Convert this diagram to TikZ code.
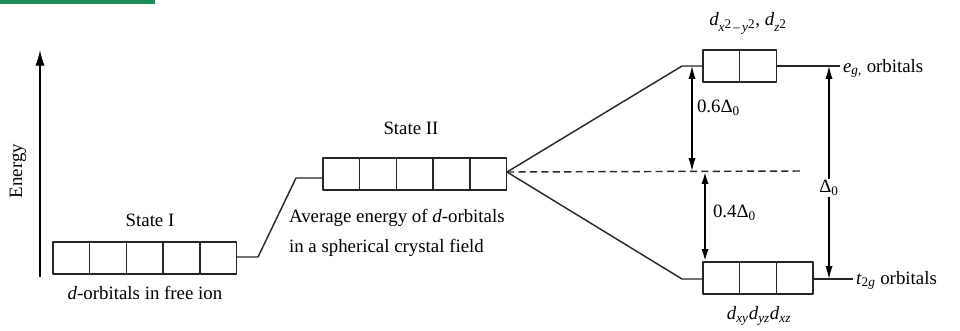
\documentclass[tikz,border=0pt]{standalone}
\usepackage{fontspec}
\setmainfont{Liberation Serif}
\usetikzlibrary{arrows.meta}
\definecolor{bargreen}{HTML}{1A8B55}
\begin{document}
\begin{tikzpicture}[
  x=0.7pt,
  y=-0.7pt,
  line join=round,
  font=\fontsize{13.2}{15}\selectfont,
  orb/.style={draw=black!85,line width=1.1pt},
  level/.style={draw=black!85,line width=1pt},
  axis/.style={draw=black,line width=1pt,-{Latex[length=11pt,width=6.5pt]}},
  gap/.style={draw=black,line width=0.8pt,
    {Latex[length=9pt,width=5pt]}-{Latex[length=9pt,width=5pt]}},
  biggap/.style={gap,line width=1.7pt}
]
  \useasboundingbox (0,0) rectangle (960,330);
  \fill[bargreen] (0,0) rectangle (155,4);

  % Energy axis.
  \coordinate (ebot) at (40,277);
  \coordinate (etop) at (40,50);
  \draw[axis] (ebot) -- (etop);
  \node[rotate=90] (energy) at (18,171) {Energy};

  % Orbital boxes: left edge, top edge, count.
  \foreach \bx/\by/\n in {53/242/5, 323/158/5, 703/50/2, 703/262/3} {
    \foreach \i in {1,...,\n} {
      \draw[orb] ({\bx+(\i-1)*36.7},\by) rectangle ({\bx+\i*36.7},\by+32);
    }
  }

  % Level ends.
  \coordinate (oneR) at (236,257);
  \coordinate (bendA) at (258,257);
  \coordinate (bendB) at (296,178);
  \coordinate (twoL) at (323,178);
  \coordinate (twoR) at (507,172);
  \coordinate (egbend) at (682,66);
  \coordinate (egL) at (703,66);
  \coordinate (egR) at (776,66);
  \coordinate (egend) at (840,66);
  \coordinate (tbend) at (682,279);
  \coordinate (tL) at (703,279);
  \coordinate (tR) at (813,279);
  \coordinate (tend) at (853,279);
  \coordinate (dashend) at (803,171);

  % Connecting levels.
  \draw[level] (oneR) -- (bendA) -- (bendB) -- (twoL);
  \draw[level] (twoR) -- (egbend) -- (egL);
  \draw[level] (twoR) -- (tbend) -- (tL);
  \draw[level] (egR) -- (egend);
  \draw[level] (tR) -- (tend);
  \draw[level,dash pattern=on 5pt off 3pt] (twoR) -- (dashend);

  % Splitting arrows.
  \coordinate (sixtop) at (692,66);
  \coordinate (sixbot) at (692,171);
  \coordinate (fourtop) at (705,171);
  \coordinate (fourbot) at (705,262);
  \coordinate (deltop) at (829,66);
  \coordinate (delbot) at (829,279);
  \draw[gap] (sixtop) -- (sixbot);
  \draw[biggap] (fourtop) -- (fourbot);
  \draw[gap] (deltop) -- (delbot);
  \node[fill=white,inner sep=1pt] (delta) at (829,188) {Δ\textsubscript{0}};

  % Labels.
  \node (stone) at (150,220) {State I};
  \node (free) at (145,293) {\textit{d}-orbitals in free ion};
  \node (sttwo) at (411,128) {State II};
  \node[anchor=west] (avgA) at (284,218) {Average energy of \textit{d}-orbitals};
  \node[anchor=west] (avgB) at (284,248) {in a spherical crystal field};
  \node (egorb) at (748,23)
    {\textit{d}\textsubscript{\textit{x}\raisebox{0.5ex}{2}\,–\,\textit{y}\raisebox{0.5ex}{2}},
     \textit{d}\textsubscript{\textit{z}\raisebox{0.5ex}{2}}};
  \node[anchor=base west] (eglab) at (838,72) {\textit{e}\textsubscript{\textit{g},} orbitals};
  \node[anchor=base west] (tlab) at (851,284) {\textit{t}\textsubscript{2\textit{g}} orbitals};
  \node[anchor=west] (six) at (692,108) {0.6Δ\textsubscript{0}};
  \node[anchor=west] (four) at (708,213) {0.4Δ\textsubscript{0}};
  \node (torb) at (759,316)
    {\textit{d}\textsubscript{\textit{xy}}\textit{d}\textsubscript{\textit{yz}}\textit{d}\textsubscript{\textit{xz}}};
\end{tikzpicture}
\end{document}
